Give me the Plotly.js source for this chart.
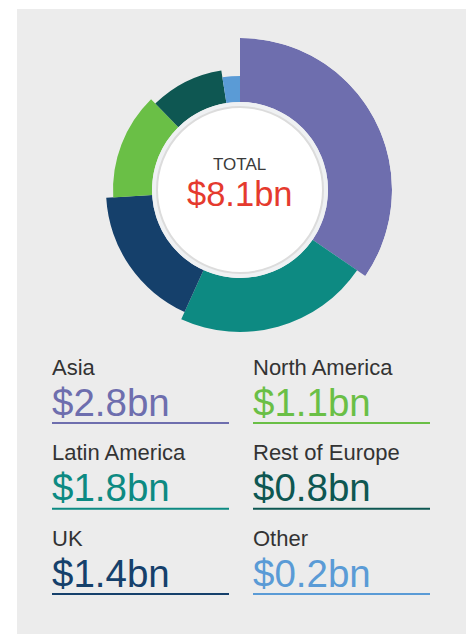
<!DOCTYPE html>
<html>
<head>
<meta charset="utf-8">
<script src="https://cdn.plot.ly/plotly-3.0.1.min.js"></script>
<style>html,body{margin:0;padding:0;background:#fff;}#chart{width:470px;height:634px;}</style>
</head>
<body>
<div id="chart"></div>
<script>
// ---- data ----
const regions = ["Asia", "Latin America", "UK", "North America", "Rest of Europe", "Other"];
const revenueBn = [2.8, 1.8, 1.4, 1.1, 0.8, 0.2];
const totalLabel = "TOTAL";
const totalText = "$8.1bn";

// ---- style ----
const colors = ["#6e6eae", "#0d8a82", "#15406b", "#6abf46", "#0e5752", "#5a9bd6"];
const outerRadius = [152, 142, 134, 127, 121, 114]; // px, decorative stepping
const innerRadius = 88;
const FONT = "Liberation Sans, Arial, sans-serif";

const W = 470, H = 634;
const cx = 240, cy = 190, R = 152;
const px = x => x / W;
const py = y => (H - y) / H;

const total = revenueBn.reduce((a, b) => a + b, 0);
let cum = 0;
const thetas = [], widths = [];
revenueBn.forEach(v => {
  const w = v / total * 360;
  thetas.push(cum + w / 2);
  widths.push(w);
  cum += w;
});

const trace = {
  type: "barpolar",
  theta: thetas,
  width: widths,
  r: outerRadius.map(r => r - innerRadius),
  base: outerRadius.map(() => innerRadius),
  marker: { color: colors, line: { width: 0 } },
  hoverinfo: "skip",
  showlegend: false
};

const shapes = [
  { type: "rect", xref: "paper", yref: "paper", x0: px(17), x1: px(466), y0: py(634), y1: py(9),
    fillcolor: "#ececec", line: { width: 0 }, layer: "below" },
  { type: "circle", xref: "paper", yref: "paper", x0: px(cx - 88), x1: px(cx + 88), y0: py(cy + 88), y1: py(cy - 88),
    fillcolor: "#eff1f3", line: { width: 0 }, layer: "above" },
  { type: "circle", xref: "paper", yref: "paper", x0: px(cx - 83), x1: px(cx + 83), y0: py(cy + 83), y1: py(cy - 83),
    fillcolor: "#ffffff", line: { width: 2, color: "#dcdcdc" }, layer: "above" }
];

const annotations = [
  { text: totalLabel, x: px(cx), y: py(164.2), xref: "paper", yref: "paper", showarrow: false, borderpad: 0,
    xanchor: "center", yanchor: "middle", font: { family: FONT, size: 17, color: "#3a3a3a" } },
  { text: totalText, x: px(cx), y: py(193.8), xref: "paper", yref: "paper", showarrow: false, borderpad: 0,
    xanchor: "center", yanchor: "middle", font: { family: FONT, size: 34.5, color: "#e53a2e" } }
];

const colX = [51, 252];
const colW = 177;
const rowLabelY = [367.2, 452.7, 538.2];
const rowValueY = [402.4, 487.9, 573.4];
const rowLineY = [423, 508.7, 594];

regions.forEach((name, i) => {
  const col = Math.floor(i / 3), row = i % 3;
  const x = colX[col];
  annotations.push({ text: name, x: px(x), y: py(rowLabelY[row]), xref: "paper", yref: "paper", showarrow: false, borderpad: 0,
    xanchor: "left", yanchor: "middle", font: { family: FONT, size: 22, color: "#333333" } });
  annotations.push({ text: "$" + revenueBn[i].toFixed(1) + "bn", x: px(x), y: py(rowValueY[row]), xref: "paper", yref: "paper", showarrow: false, borderpad: 0,
    xanchor: "left", yanchor: "middle", font: { family: FONT, size: 38.5, color: colors[i] } });
  shapes.push({ type: "line", xref: "paper", yref: "paper", x0: px(x + 1), x1: px(x + 1 + colW), y0: py(rowLineY[row]), y1: py(rowLineY[row]),
    line: { color: colors[i], width: 2 } });
});

const layout = {
  width: W, height: H,
  margin: { l: 0, r: 0, t: 0, b: 0 },
  paper_bgcolor: "#ffffff",
  showlegend: false,
  polar: {
    domain: { x: [px(cx - R), px(cx + R)], y: [py(cy + R), py(cy - R)] },
    bgcolor: "rgba(0,0,0,0)",
    radialaxis: { range: [0, R], visible: false, showgrid: false },
    angularaxis: { rotation: 90, direction: "clockwise", visible: false, showgrid: false },
    bargap: 0
  },
  shapes: shapes,
  annotations: annotations
};

Plotly.newPlot("chart", [trace], layout, { staticPlot: true, displayModeBar: false });
</script>
</body>
</html>
